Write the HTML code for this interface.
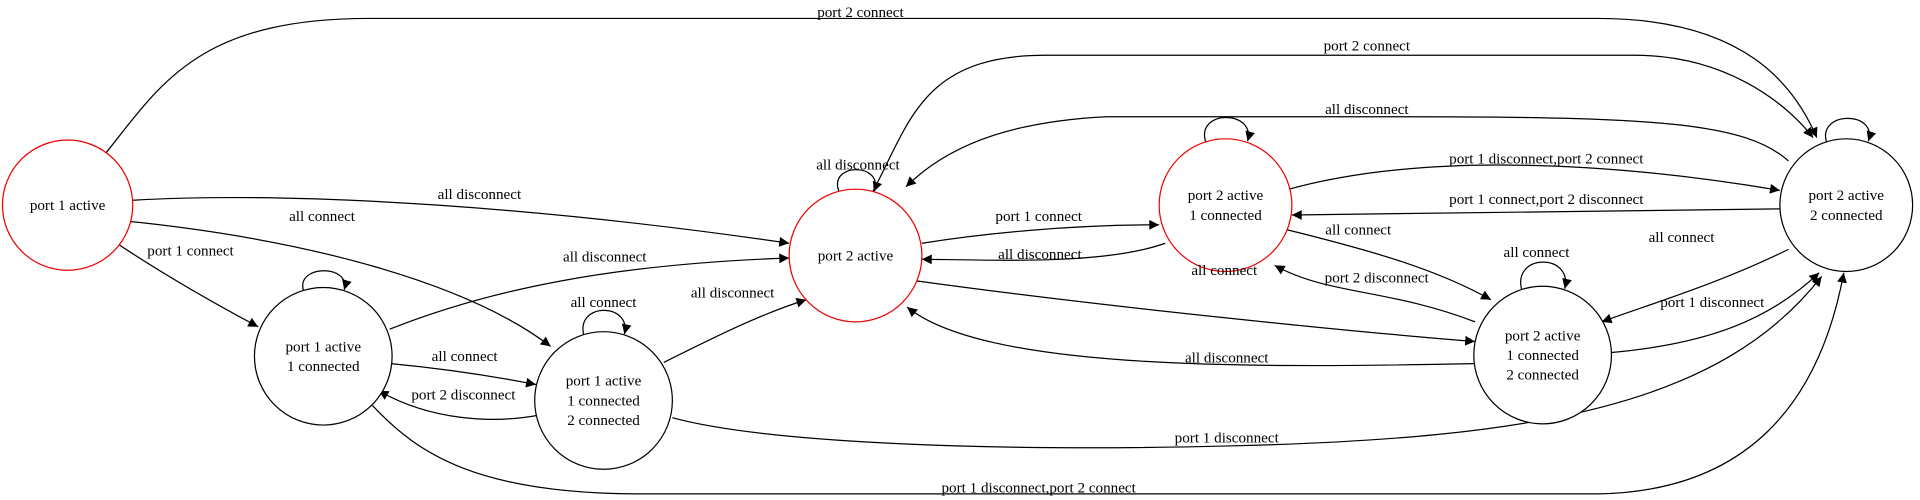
<!DOCTYPE html>
<html><head><meta charset="utf-8"><style>
html,body{margin:0;padding:0;background:#fff;width:1920px;height:500px;overflow:hidden}
svg text{font-family:"Liberation Serif",serif;font-size:12.3px;fill:#000;text-anchor:middle}
</style></head><body>
<svg width="1920" height="500" viewBox="0 0 1562 407" preserveAspectRatio="none" xmlns="http://www.w3.org/2000/svg">
<defs><marker id="a" viewBox="0 0 10 10" refX="10" refY="5" markerWidth="10" markerHeight="8" markerUnits="userSpaceOnUse" orient="auto"><path d="M0,0 L10,5 L0,10 z" fill="#000"/></marker></defs>
<g fill="none" stroke="#000" stroke-width="1" marker-end="url(#a)">
<path d="M85,126 C130,70 160,15 300,15 L1300,15 C1420,15 1460,70 1478,112"/>
<path d="M710,156 C740,100 750,45 850,45 L1330,45 C1400,45 1450,80 1475,112"/>
<path d="M1455,131 C1420,100 1350,95 1140,95 L900,95 C800,100 760,130 737,152"/>
<path d="M108,163 C250,155 450,170 642,198"/>
<path d="M103,180 C250,195 380,230 448,282"/>
<path d="M95,198 C140,228 180,250 210,266"/>
<path d="M317,268 C400,235 500,215 642,210"/>
<path d="M540,295 C580,275 620,255 656,244"/>
<path d="M247,237 C240,215 286,215 280,236"/>
<path d="M318,296 C360,300 400,306 436,313"/>
<path d="M438,338 C400,345 350,342 308,318"/>
<path d="M475,273 C468,246 514,246 508,272"/>
<path d="M547,340 C620,360 800,368 1000,363 C1250,357 1400,330 1482,225"/>
<path d="M303,330 C340,370 390,402 520,402 L1300,402 C1420,400 1480,330 1500,222"/>
<path d="M683,157 C672,132 720,132 711,156"/>
<path d="M750,198 C800,190 870,183 943,183"/>
<path d="M948,198 C900,215 820,212 750,211"/>
<path d="M741,228 C900,250 1100,270 1200,278"/>
<path d="M1200,296 C1000,300 800,300 738,250"/>
<path d="M981,116 C972,89 1022,89 1015,115"/>
<path d="M1045,155 C1150,125 1300,130 1448,155"/>
<path d="M1450,170 C1300,173 1150,175 1051,175"/>
<path d="M1047,187 C1120,205 1170,220 1213,244"/>
<path d="M1200,262 C1130,235 1080,240 1037,216"/>
<path d="M1238,236 C1230,206 1280,206 1273,235"/>
<path d="M1455,203 C1400,230 1350,245 1303,262"/>
<path d="M1310,287 C1390,280 1440,260 1480,222"/>
<path d="M1486,116 C1478,90 1528,90 1520,115"/>
</g>
<g fill="#fff" stroke-width="1">
<circle cx="55" cy="167" r="53" stroke="#e00"/>
<circle cx="696" cy="208" r="54" stroke="#e00"/>
<circle cx="997" cy="167" r="54" stroke="#e00"/>
<circle cx="1502" cy="167" r="54" stroke="#000"/>
<circle cx="263" cy="290" r="56" stroke="#000"/>
<circle cx="491" cy="326" r="56" stroke="#000"/>
<circle cx="1255" cy="289" r="56" stroke="#000"/>
</g>
<g>
<text x="55" y="171">port 1 active</text>
<text x="696" y="212">port 2 active</text>
<text x="997" y="163">port 2 active</text><text x="997" y="179">1 connected</text>
<text x="1502" y="163">port 2 active</text><text x="1502" y="179">2 connected</text>
<text x="263" y="286">port 1 active</text><text x="263" y="302">1 connected</text>
<text x="491" y="314">port 1 active</text><text x="491" y="330">1 connected</text><text x="491" y="346">2 connected</text>
<text x="1255" y="277">port 2 active</text><text x="1255" y="293">1 connected</text><text x="1255" y="309">2 connected</text>
<text x="700" y="14">port 2 connect</text>
<text x="1112" y="41">port 2 connect</text>
<text x="1112" y="93">all disconnect</text>
<text x="390" y="162">all disconnect</text>
<text x="262" y="180">all connect</text>
<text x="155" y="208">port 1 connect</text>
<text x="492" y="213">all disconnect</text>
<text x="596" y="242">all disconnect</text>
<text x="378" y="294">all connect</text>
<text x="377" y="325">port 2 disconnect</text>
<text x="491" y="250">all connect</text>
<text x="998" y="360">port 1 disconnect</text>
<text x="845" y="401">port 1 disconnect,port 2 connect</text>
<text x="698" y="138">all disconnect</text>
<text x="845" y="180">port 1 connect</text>
<text x="846" y="211">all disconnect</text>
<text x="996" y="224">all connect</text>
<text x="998" y="295">all disconnect</text>
<text x="1258" y="133">port 1 disconnect,port 2 connect</text>
<text x="1258" y="166">port 1 connect,port 2 disconnect</text>
<text x="1105" y="191">all connect</text>
<text x="1120" y="230">port 2 disconnect</text>
<text x="1250" y="209">all connect</text>
<text x="1368" y="197">all connect</text>
<text x="1393" y="250">port 1 disconnect</text>
</g>
</svg>
</body></html>
